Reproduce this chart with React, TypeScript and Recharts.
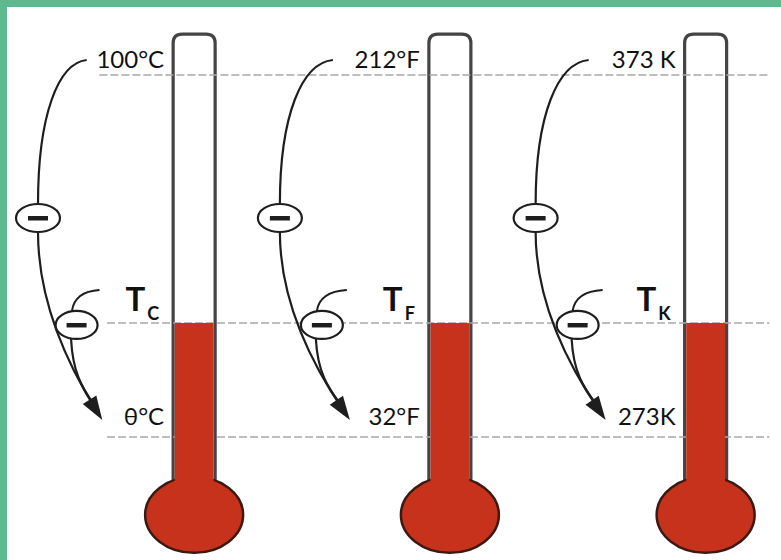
import { Bar, ComposedChart, ReferenceLine, XAxis, YAxis } from "recharts";

// three scales shown side by side, levels normalised to the two fixed points
const SCALES = ["C", "F", "K"];
const POSITIONS = [1, 2, 3];
const UPPER_POINT = [100, 212, 373];
const LOWER_POINT = [0, 32, 273];
const UPPER_LABELS = ["100°C", "212°F", "373 K"];
const LOWER_LABELS = ["θ°C", "32°F", "273K"];
const READINGS = [31.5, 88.7, 304.5];

// geometry in normalised units (0 = lower fixed point, 100 = upper fixed point)
const GLASS_TOP = 111.3;
const BULB_CENTER = -21.5;
const X_DOMAIN = [0.2414, 3.2952];
const Y_DOMAIN = [-33.98, 120.72];
const LINE_FROM = 0.63;
const LINE_TO = 3.25;

const RED = "#c6321c";
const INK = "#1e1e1e";
const FONT = "Lato, 'Open Sans', sans-serif";

const data = SCALES.map((s, i) => {
  const level = ((READINGS[i] - LOWER_POINT[i]) / (UPPER_POINT[i] - LOWER_POINT[i])) * 100;
  return {
    scale: s,
    pos: POSITIONS[i],
    upper: UPPER_LABELS[i],
    lower: LOWER_LABELS[i],
    level,
    glass: [BULB_CENTER, GLASS_TOP],
    mercury: [BULB_CENTER, level],
    span: [0, 100],
    reading: [0, level],
  };
});

function box(p: any) {
  const top = Math.min(p.y, p.y + p.height);
  const bottom = Math.max(p.y, p.y + p.height);
  return { cx: p.x + p.width / 2, top, bottom, hw: Math.abs(p.width) / 2 };
}

function Glass(p: any) {
  const { cx, top, bottom, hw } = box(p);
  const r = 9;
  const d = `M${cx - hw},${bottom} L${cx - hw},${top + r} Q${cx - hw},${top} ${cx - hw + r},${top} L${cx + hw - r},${top} Q${cx + hw},${top} ${cx + hw},${top + r} L${cx + hw},${bottom}`;
  return <path d={d} fill="#fff" stroke="#444" strokeWidth={3.2} />;
}

function Mercury(p: any) {
  const { cx, top, bottom, hw } = box(p);
  return (
    <g>
      <ellipse cx={cx} cy={bottom} rx={49} ry={38} fill={RED} stroke="#3a1a12" strokeWidth={2.5} />
      <rect x={cx - hw + 1.6} y={top} width={2 * hw - 3.2} height={bottom - top} fill={RED} />
    </g>
  );
}

function Minus({ x, y, rx, ry }: { x: number; y: number; rx: number; ry: number }) {
  return (
    <g>
      <ellipse cx={x} cy={y} rx={rx} ry={ry} fill="#fff" stroke={INK} strokeWidth={2.2} />
      <rect x={x - 10} y={y - 2} width={20} height={4.5} fill={INK} />
    </g>
  );
}

function Span(p: any) {
  const { cx, top: yTop, bottom: yBot } = box(p);
  const s = Math.min(1, (cx - 38) / 170);
  const X = (dx: number) => cx + dx * s;
  const c1y = yTop + 143;
  const p2 = [X(-128), yBot - 58];
  const tip = [X(-100), yBot - 17];
  const ang = Math.atan2(tip[1] - p2[1], tip[0] - p2[0]);
  const L = 24;
  const W = 8;
  const bx = tip[0] - L * Math.cos(ang);
  const by = tip[1] - L * Math.sin(ang);
  const head = `M${tip[0]},${tip[1]} L${bx - W * Math.sin(ang)},${by + W * Math.cos(ang)} L${bx + W * Math.sin(ang)},${by - W * Math.cos(ang)} Z`;
  const d = p.payload;
  return (
    <g>
      <path
        d={`M${X(-117)},${yTop - 15} C${X(-148)},${yTop - 12} ${X(-170)},${yTop + 40} ${X(-170)},${c1y - 14}`}
        fill="none"
        stroke={INK}
        strokeWidth={2.2}
      />
      <path
        d={`M${X(-170)},${c1y + 14} C${X(-170)},${yTop + 235} ${p2[0]},${p2[1]} ${tip[0] - 10 * Math.cos(ang)},${tip[1] - 10 * Math.sin(ang)}`}
        fill="none"
        stroke={INK}
        strokeWidth={2.2}
      />
      <path d={head} fill={INK} />
      <Minus x={X(-170)} y={c1y} rx={22} ry={14} />
      <text x={cx - 30} y={yTop - 7} textAnchor="end" fontFamily={FONT} fontSize={24} fill="#111">
        {d.upper}
      </text>
      <text x={cx - 30} y={yBot - 12} textAnchor="end" fontFamily={FONT} fontSize={24} fill="#111">
        {d.lower}
      </text>
    </g>
  );
}

function Reading(p: any) {
  const { cx, top: yT, bottom: yBot } = box(p);
  const s = Math.min(1, (cx - 38) / 170);
  const X = (dx: number) => cx + dx * s;
  const d = p.payload;
  return (
    <g>
      <path
        d={`M${X(-133)},${yT - 12} C${X(-131)},${yT - 26} ${X(-120)},${yT - 32} ${X(-103)},${yT - 33}`}
        fill="none"
        stroke={INK}
        strokeWidth={2}
      />
      <path
        d={`M${X(-134)},${yT + 16} C${X(-132)},${yT + 55} ${X(-118)},${yBot - 45} ${X(-106)},${yBot - 28}`}
        fill="none"
        stroke={INK}
        strokeWidth={2.2}
      />
      <Minus x={X(-128)} y={yT + 2} rx={21} ry={14} />
      <text x={cx - 35} y={yT - 12} textAnchor="end" fontFamily={FONT} fontWeight={700} fill="#111">
        <tspan fontSize={33}>T</tspan>
        <tspan fontSize={18} dx={2} dy={9}>
          {d.scale}
        </tspan>
      </text>
    </g>
  );
}

const DASH = { stroke: "#a9a9a9", strokeWidth: 1.5, strokeDasharray: "8 3", zIndex: 310 };

export default function App() {
  const tLevel = data[0].level;
  return (
    <div style={{ position: "relative", width: 781, height: 560, background: "#5fb98e" }}>
      <style>{"body{margin:0}"}</style>
      <div style={{ position: "absolute", left: 7, top: 7, width: 774, height: 553, background: "#fff" }} />
      <div style={{ position: "absolute", left: 0, top: 0 }}>
        <ComposedChart width={781} height={560} data={data} margin={{ top: 0, right: 0, bottom: 0, left: 0 }}>
          <XAxis xAxisId={0} dataKey="pos" type="number" domain={X_DOMAIN} hide />
          <XAxis xAxisId="mercury" dataKey="pos" type="number" domain={X_DOMAIN} hide />
          <XAxis xAxisId="span" dataKey="pos" type="number" domain={X_DOMAIN} hide />
          <XAxis xAxisId="reading" dataKey="pos" type="number" domain={X_DOMAIN} hide />
          <YAxis type="number" domain={Y_DOMAIN} allowDataOverflow hide />
          <Bar xAxisId={0} dataKey="glass" barSize={42} shape={Glass} isAnimationActive={false} zIndex={300} />
          <ReferenceLine segment={[{ x: LINE_FROM, y: 100 }, { x: LINE_TO, y: 100 }]} {...DASH} />
          <ReferenceLine segment={[{ x: LINE_FROM + 0.03, y: tLevel }, { x: LINE_TO, y: tLevel }]} {...DASH} />
          <ReferenceLine segment={[{ x: LINE_FROM + 0.03, y: 0 }, { x: LINE_TO, y: 0 }]} {...DASH} />
          <Bar xAxisId="mercury" dataKey="mercury" barSize={42} shape={Mercury} isAnimationActive={false} zIndex={320} />
          <Bar xAxisId="span" dataKey="span" barSize={42} shape={Span} isAnimationActive={false} zIndex={330} />
          <Bar xAxisId="reading" dataKey="reading" barSize={42} shape={Reading} isAnimationActive={false} zIndex={340} />
        </ComposedChart>
      </div>
    </div>
  );
}
